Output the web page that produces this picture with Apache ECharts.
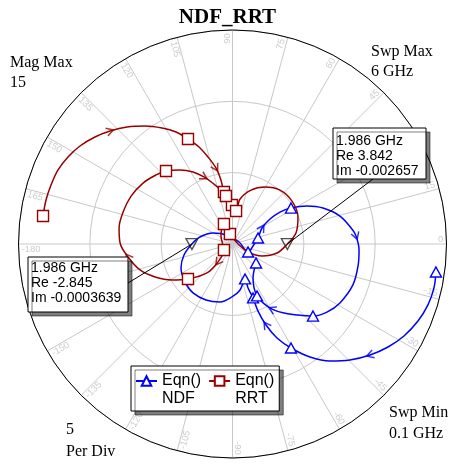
<!DOCTYPE html>
<html>
<head>
<meta charset="utf-8">
<script src="https://cdn.jsdelivr.net/npm/echarts@6/dist/echarts.min.js"></script>
<style>
  html, body { margin: 0; padding: 0; background: #fff; }
  #chart { width: 455px; height: 465px; }
</style>
</head>
<body>
<div id="chart"></div>
<script>
// Complex samples [Re, Im] along the 0.1 - 6 GHz sweep
const ndfTrace = [
  [14.26, -1.96], [14.12, -3.08], [13.70, -4.27], [13.00, -5.40], [12.02, -6.45],
  [10.90, -7.22], [9.64, -7.78], [8.23, -8.13], [6.83, -8.20], [5.43, -7.92],
  [4.10, -7.29], [3.12, -6.59], [2.35, -5.68], [1.79, -4.70], [1.44, -3.78],
  [1.09, -3.08], [0.88, -2.45], [0.53, -3.22], [-0.04, -3.71], [-0.88, -4.06],
  [-1.86, -3.92], [-2.77, -3.43], [-3.33, -2.66], [-3.61, -1.68], [-3.40, -0.77],
  [-2.845, -0.0003639], [-2.28, 0.49], [-1.37, 0.77], [-0.39, 0.63], [0.46, 0.14],
  [1.09, -0.56], [1.44, -0.14], [1.79, 0.42], [2.07, 1.12], [2.63, 1.75],
  [3.33, 2.24], [4.10, 2.52], [5.22, 2.66], [6.34, 2.52], [7.53, 1.96],
  [8.37, 1.05], [8.66, 0.56], [8.87, -0.42], [8.80, -1.54], [8.44, -2.87],
  [7.53, -4.13], [6.62, -4.77], [5.64, -5.05], [4.59, -4.98], [3.61, -4.84],
  [2.77, -4.56], [2.14, -4.13], [1.72, -3.64], [1.51, -3.08], [1.44, -2.38],
  [1.65, -1.33]
];
const rrtTrace = [
  [-13.28, 1.96], [-13.07, 3.08], [-12.72, 4.13], [-12.23, 5.19], [-11.53, 6.10],
  [-10.69, 6.87], [-9.64, 7.50], [-8.58, 7.92], [-7.39, 8.20], [-6.13, 8.27],
  [-4.94, 8.13], [-3.96, 7.85], [-3.12, 7.36], [-2.35, 6.80], [-1.72, 6.10],
  [-1.16, 5.33], [-0.81, 4.49], [-0.60, 3.64], [-0.25, 3.15], [-0.04, 2.73],
  [0.25, 2.31], [0.53, 3.15], [1.30, 3.78], [2.28, 3.99], [3.33, 3.78],
  [4.17, 3.01], [4.59, 1.89], [4.45, 0.77], [3.842, -0.002657], [3.12, -0.63],
  [2.07, -0.84], [1.09, -0.56], [0.39, 0.00], [-0.18, 0.70], [-0.60, 1.40],
  [-0.81, 0.56], [-0.60, -0.42], [-1.02, -1.26], [-1.79, -2.03], [-3.12, -2.45],
  [-4.24, -2.52], [-5.43, -2.31], [-6.48, -1.82], [-7.32, -0.91], [-7.88, 0.07],
  [-7.95, 1.12], [-7.67, 2.24], [-7.11, 3.36], [-6.27, 4.27], [-5.36, 4.84],
  [-4.66, 5.12], [-3.68, 5.19], [-2.77, 5.05], [-2.00, 4.70], [-1.30, 4.20],
  [-0.81, 3.78], [-0.46, 3.36]
];

// Sample indices that carry a trace symbol / a direction arrow
const ndfSymbolIdx = [0, 10, 14, 16, 30, 32, 36, 47, 52, 55];
const rrtSymbolIdx = [0, 12, 17, 19, 20, 33, 34, 36, 39, 50, 56];
const ndfArrowIdx = [6, 12, 33, 41, 50];
const rrtArrowIdx = [7, 15, 37, 43, 53];

// Readouts at the marker frequency
const markerFreqGHz = 1.986;
const ndfMarker = [-2.845, -0.0003639];
const rrtMarker = [3.842, -0.002657];

// Axis settings
const magMax = 15;
const perDiv = 5;
const sweepGHz = [0.1, 6];
const angleTicks = [-180, -165, -150, -135, -120, -105, -90, -75, -60, -45, -30, -15,
                    0, 15, 30, 45, 60, 75, 90, 105, 120, 135, 150, 165];
const seriesNames = ['Eqn()\nNDF', 'Eqn()\nRRT'];

const NDF_COLOR = '#0000ff';
const RRT_COLOR = '#990000';
const GRID_COLOR = '#c8c8c8';
const SANS = 'Liberation Sans';
const SERIF = 'Liberation Serif';

function toPolar(p) {
  return [Math.hypot(p[0], p[1]), Math.atan2(p[1], p[0]) * 180 / Math.PI];
}

function traceData(trace, symbolIdx) {
  return trace.map((p, i) => symbolIdx.includes(i)
    ? { value: toPolar(p) }
    : { value: toPolar(p), symbol: 'none' });
}

function arrowData(trace, idx) {
  return idx.map(i => {
    const a = trace[i - 1], b = trace[i + 1];
    const heading = Math.atan2(b[1] - a[1], b[0] - a[0]) * 180 / Math.PI;
    return { value: toPolar(trace[i]), symbolRotate: heading - 90 };
  });
}

const labelRadius = 14.78;
const tickLabelData = angleTicks.map(a => {
  const rightSide = a >= -90 && a <= 90;
  return {
    value: [labelRadius, a],
    label: {
      formatter: String(a),
      rotate: rightSide ? a : a - 180,
      align: rightSide ? 'right' : 'left',
      verticalAlign: rightSide ? 'bottom' : 'top'
    }
  };
});

const chart = echarts.init(document.getElementById('chart'), null, { renderer: 'canvas' });

const chevron = 'path://M0,10 L5,0 L10,10';

chart.setOption({
  animation: false,
  backgroundColor: '#fff',
  title: {
    text: 'NDF_RRT',
    left: 'center',
    top: 2,
    textStyle: { fontFamily: SERIF, fontWeight: 'bold', fontSize: 21, color: '#000' }
  },
  polar: { center: [232.5, 244], radius: 214 },
  angleAxis: {
    type: 'value',
    min: -180,
    max: 180,
    interval: 15,
    startAngle: 180,
    clockwise: false,
    axisLine: { show: true, lineStyle: { color: '#000', width: 1 } },
    axisTick: { show: false },
    axisLabel: { show: false },
    splitLine: { show: true, lineStyle: { color: GRID_COLOR, width: 1 } }
  },
  radiusAxis: {
    type: 'value',
    min: 0,
    max: magMax,
    interval: perDiv,
    axisLine: { show: false },
    axisTick: { show: false },
    axisLabel: { show: false },
    splitLine: { show: true, lineStyle: { color: GRID_COLOR, width: 1 } }
  },
  legend: {
    data: seriesNames,
    left: 131,
    top: 366,
    orient: 'horizontal',
    selectedMode: false,
    itemWidth: 21,
    itemHeight: 12,
    itemGap: 7,
    padding: [7, 5, 4, 4],
    backgroundColor: '#fff',
    borderColor: '#000',
    borderWidth: 1,
    borderRadius: 0,
    shadowColor: 'rgba(0,0,0,0.5)',
    shadowBlur: 0,
    shadowOffsetX: 4,
    shadowOffsetY: 4,
    formatter: name => '{t|' + name.split('\n').join('}\n{t|') + '}',
    textStyle: {
      padding: [0, 0, -18, 0],
      rich: { t: { fontFamily: SANS, fontSize: 16, lineHeight: 18, color: '#000' } }
    }
  },
  series: [
    {
      name: seriesNames[0],
      type: 'line',
      coordinateSystem: 'polar',
      data: traceData(ndfTrace, ndfSymbolIdx),
      smooth: 0.35,
      symbol: 'triangle',
      symbolSize: [11, 10],
      showSymbol: true,
      lineStyle: { color: NDF_COLOR, width: 1.5 },
      itemStyle: { color: '#fff', borderColor: NDF_COLOR, borderWidth: 1.4 },
      z: 3,
      silent: true
    },
    {
      name: seriesNames[1],
      type: 'line',
      coordinateSystem: 'polar',
      data: traceData(rrtTrace, rrtSymbolIdx),
      smooth: 0.35,
      symbol: 'rect',
      symbolSize: 11,
      showSymbol: true,
      lineStyle: { color: RRT_COLOR, width: 1.5 },
      itemStyle: { color: '#fff', borderColor: RRT_COLOR, borderWidth: 1.4 },
      z: 3,
      silent: true
    },
    {
      type: 'scatter',
      coordinateSystem: 'polar',
      data: arrowData(ndfTrace, ndfArrowIdx),
      symbol: chevron,
      symbolSize: [8, 7],
      itemStyle: { color: 'rgba(0,0,0,0)', borderColor: NDF_COLOR, borderWidth: 1.4 },
      z: 4,
      silent: true
    },
    {
      type: 'scatter',
      coordinateSystem: 'polar',
      data: arrowData(rrtTrace, rrtArrowIdx),
      symbol: chevron,
      symbolSize: [8, 7],
      itemStyle: { color: 'rgba(0,0,0,0)', borderColor: RRT_COLOR, borderWidth: 1.4 },
      z: 4,
      silent: true
    },
    {
      type: 'scatter',
      coordinateSystem: 'polar',
      data: [toPolar(ndfMarker), toPolar(rrtMarker)],
      symbol: 'triangle',
      symbolRotate: 180,
      symbolSize: [12, 11],
      itemStyle: { color: 'rgba(255,255,255,0)', borderColor: '#222', borderWidth: 1.3 },
      z: 5,
      silent: true
    },
    {
      type: 'scatter',
      coordinateSystem: 'polar',
      data: tickLabelData,
      symbolSize: 1,
      itemStyle: { color: 'rgba(0,0,0,0)' },
      label: { show: true, position: 'inside', color: '#c0c0c0', fontSize: 9.5, fontFamily: SANS },
      z: 1,
      silent: true
    }
  ]
});

// Marker readout boxes with leader lines to the marker points
const pNdf = chart.convertToPixel({ seriesIndex: 4 }, toPolar(ndfMarker));
const pRrt = chart.convertToPixel({ seriesIndex: 4 }, toPolar(rrtMarker));

function readout(box, textTop, v, anchor) {
  return {
    type: 'group',
    z: 20,
    children: [
      { type: 'line', z: 20, shape: { x1: anchor[0], y1: anchor[1], x2: v.lineTo[0], y2: v.lineTo[1] },
        style: { stroke: '#000', lineWidth: 1 } },
      { type: 'rect', z: 21, shape: box,
        style: { fill: '#fff', stroke: '#000', lineWidth: 1,
                 shadowColor: 'rgba(0,0,0,0.5)', shadowBlur: 0, shadowOffsetX: 4, shadowOffsetY: 4 } },
      { type: 'text', z: 22, x: box.x + 3, y: textTop,
        style: { text: v.text, fontFamily: SANS, fontSize: 14, lineHeight: 15, fill: '#000', verticalAlign: 'top' } }
    ]
  };
}

function readoutText(p) {
  return markerFreqGHz + ' GHz\nRe ' + p[0] + '\nIm ' + p[1];
}

function note(text, x, y, lh) {
  return { type: 'text', x: x, y: y, z: 10,
           style: { text: text, fontFamily: SERIF, fontSize: 16, lineHeight: lh, fill: '#000', verticalAlign: 'top' } };
}

chart.setOption({
  graphic: [
    readout({ x: 333, y: 128, width: 93, height: 51 }, 134,
            { text: readoutText(rrtMarker), lineTo: [373, 179] }, pRrt),
    readout({ x: 28, y: 257, width: 100, height: 55 }, 261,
            { text: readoutText(ndfMarker), lineTo: [128, 283] }, pNdf),
    note('Mag Max\n' + magMax, 10, 52.5, 20),
    note('Swp Max\n' + sweepGHz[1] + ' GHz', 371, 41.5, 20),
    note('Swp Min\n' + sweepGHz[0] + ' GHz', 389, 402, 21),
    note(perDiv + '\nPer Div', 66, 418.5, 22)
  ]
});
</script>
</body>
</html>
